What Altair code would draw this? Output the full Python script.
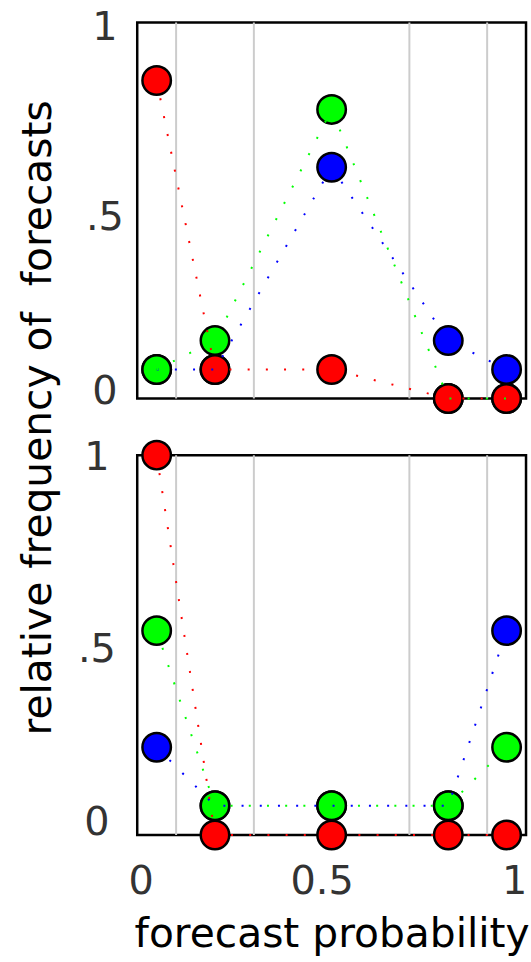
import altair as alt
import pandas as pd

# forecast probability bins
bin_centers = [0.05, 0.2, 0.5, 0.8, 0.95]
bin_edges = [0.1, 0.3, 0.7, 0.9]
series = ["blue", "green", "red"]
series_colors = ["#0000ff", "#00ff00", "#ff0000"]

# upper panel: relative frequency of forecasts
top_blue = [0.077, 0.077, 0.615, 0.154, 0.077]
top_green = [0.077, 0.154, 0.769, 0.0, 0.0]
top_red = [0.846, 0.077, 0.077, 0.0, 0.0]

# lower panel
bot_blue = [0.231, 0.077, 0.077, 0.077, 0.538]
bot_green = [0.538, 0.077, 0.077, 0.077, 0.231]
bot_red = [1.0, 0.0, 0.0, 0.0, 0.0]

y_ticks = [0, 0.5, 1]
x_ticks = [0, 0.5, 1]

FONT = "DejaVu Sans"
W = 391


def make_df(vals):
    rows = []
    for s, v in zip(series, vals):
        for i, (x, y) in enumerate(zip(bin_centers, v)):
            rows.append({"series": s, "p": x, "f": y, "k": i})
    return pd.DataFrame(rows)


edges_df = pd.DataFrame({"edge": bin_edges})
color_scale = alt.Scale(domain=series, range=series_colors)


def panel(vals, height, x_axis, y_axis):
    df = make_df(vals)
    xs = alt.Scale(domain=[0, 1], nice=False, zero=False)
    ys = alt.Scale(domain=[0, 1], nice=False, zero=False)
    rules = alt.Chart(edges_df).mark_rule(color="#cccccc", strokeWidth=2).encode(
        x=alt.X("edge:Q", scale=xs, axis=x_axis)
    )
    circles = alt.Chart(df).mark_circle(
        size=820, opacity=1, stroke="black", strokeWidth=2.5
    ).encode(
        x=alt.X("p:Q", scale=xs, axis=x_axis),
        y=alt.Y("f:Q", scale=ys, axis=y_axis),
        fill=alt.Fill("series:N", scale=color_scale, legend=None),
    )
    lines = alt.Chart(df).mark_line(strokeWidth=2, strokeDash=[2, 16.3]).encode(
        x=alt.X("p:Q", scale=xs, axis=x_axis),
        y=alt.Y("f:Q", scale=ys, axis=y_axis),
        color=alt.Color("series:N", scale=color_scale, legend=None),
        order=alt.Order("k:Q"),
    )
    return alt.layer(rules, circles, lines).properties(width=W, height=height)


top_y_axis = alt.Axis(
    values=y_ticks,
    format="~g",
    labelExpr="datum.value == 0.5 ? '.5' : datum.label",
    labelAlign="center",
    labelBaseline="middle",
    labelPadding=33,
    labelOffset={"condition": [{"test": "datum.value == 1", "value": 5},
                               {"test": "datum.value == 0.5", "value": 7}],
                 "value": -7},
    title="relative frequency of\u00a0 forecasts",
    titleFontSize=41,
    titleAngle=270,
    titleAlign="center",
    titleBaseline="alphabetic",
    titleX=-87,
    titleY=397,
)
bot_y_axis = alt.Axis(
    values=y_ticks,
    format="~g",
    labelExpr="datum.value == 0.5 ? '.5' : datum.label",
    labelAlign="center",
    labelBaseline="middle",
    labelPadding=41,
    labelOffset={"condition": [{"test": "datum.value == 1", "value": 2},
                               {"test": "datum.value == 0.5", "value": 4.5}],
                 "value": -12},
    title=None,
)
bot_x_axis = alt.Axis(
    values=x_ticks,
    format="~g",
    labelFlush=False,
    labelAlign="center",
    labelBaseline="top",
    labelPadding=27,
    labelOffset={"condition": [{"test": "datum.value == 0", "value": 3.5},
                               {"test": "datum.value == 0.5", "value": -10}],
                 "value": -12},
    title="forecast probability",
    titleFontSize=41,
    titleBaseline="alphabetic",
    titleAlign="center",
    titleY=112,
)

top = panel([top_blue, top_green, top_red], 378, None, top_y_axis)
bottom = panel([bot_blue, bot_green, bot_red], 382, bot_x_axis, bot_y_axis)

chart = alt.vconcat(top, bottom, spacing=57, bounds="flush").properties(
    padding={"left": 16, "top": 3, "right": 0, "bottom": 0}
).configure_view(
    stroke="black", strokeWidth=2.5
).configure_axis(
    labelFont=FONT, labelFontSize=40, labelColor="#333333",
    titleFont=FONT, titleFontSize=40, titleColor="black", titleFontWeight="normal",
    ticks=False, tickSize=0, domain=False, grid=False,
)

chart.save("out.html", embed_options={"renderer": "svg", "actions": False})
